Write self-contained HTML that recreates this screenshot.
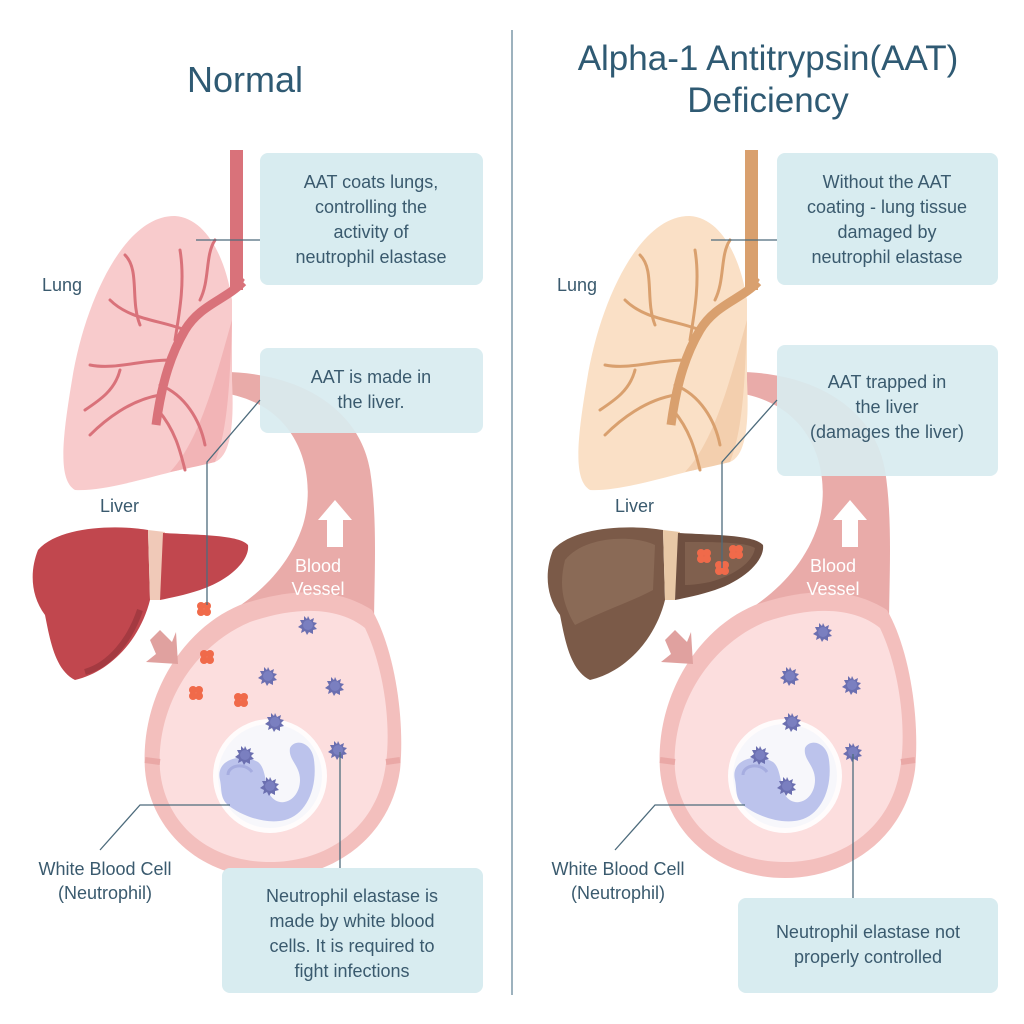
<!DOCTYPE html>
<html><head><meta charset="utf-8"><style>
html,body{margin:0;padding:0;background:#fff;}
svg{display:block;}
text{font-family:"Liberation Sans",sans-serif;}
</style></head><body>
<svg width="1024" height="1024" viewBox="0 0 1024 1024" xmlns="http://www.w3.org/2000/svg">
<defs>
<g id="star">
<polygon points="0,-9 2,-5 6,-7 5,-3 9,-2 6,1 9,4 5,5 5,9 1,7 -1,10 -3,6 -7,8 -6,4 -10,2 -6,-1 -8,-5 -4,-5 -4,-9 -1,-6" fill="#6b6fb0"/>
<circle r="5" fill="#7a7fc0"/>
</g>
<g id="clus">
<circle cx="-3" cy="-3" r="4" fill="#f06a4a"/><circle cx="3" cy="-3" r="4" fill="#f06a4a"/>
<circle cx="-3" cy="3" r="4" fill="#f06a4a"/><circle cx="3" cy="3" r="4" fill="#f06a4a"/>
</g>
<g id="vessel">
<!-- tube -->
<path d="M215,372 C300,370 360,410 370,470 C378,520 374,580 374,630 L225,615 C260,595 290,565 303,525 C318,475 300,400 215,392 Z" fill="#e9aba9"/>
<!-- bulb -->
<path d="M372,610 C395,650 405,720 400,770 C390,840 330,878 270,878 C200,878 150,830 145,770 C140,700 180,630 240,605 C300,585 340,590 372,610 Z" fill="#f3bfbd"/>
<path d="M365,628 C385,670 392,730 385,770 C375,830 325,862 270,862 C210,862 165,825 160,770 C156,705 195,645 250,622 C300,605 340,608 365,628 Z" fill="#fcdede"/>
<path d="M145,760 L160,762 M400,760 L386,762" stroke="#eaa8a6" stroke-width="6"/>
<!-- up arrow -->
<polygon points="335,500 352,520 343,520 343,547 327,547 327,520 318,520" fill="#fff"/>
<!-- pink arrow -->
<polygon points="150,640 160,630 172,642 176,632 178,664 146,662 156,654" fill="#e0a19f"/>
<!-- WBC -->
<circle cx="270" cy="776" r="57" fill="#ffffff" opacity="0.9"/>
<circle cx="270" cy="776" r="52" fill="#f7f7fb"/>
<path d="M220,780 C215,760 240,752 258,762 C266,768 265,785 270,795 C280,810 300,800 300,780 C300,765 288,760 290,748 C295,738 312,742 314,760 C318,790 305,815 285,820 C265,825 240,815 228,805 C220,798 222,790 220,780 Z" fill="#bcc3ec"/>
<path d="M228,775 C228,765 245,762 252,772" stroke="#a6ade0" stroke-width="3" fill="none"/>
<text x="318" y="572" font-size="18" fill="#fff" text-anchor="middle">Blood</text>
<text x="318" y="595" font-size="18" fill="#fff" text-anchor="middle">Vessel</text>
</g>
</defs>

<line x1="512" y1="30" x2="512" y2="995" stroke="#7d98a8" stroke-width="1.5"/>

<text x="245" y="92" font-size="36" fill="#2f5a73" text-anchor="middle">Normal</text>
<text x="768" y="70" font-size="35" fill="#2f5a73" text-anchor="middle">Alpha-1 Antitrypsin(AAT)</text>
<text x="768" y="112" font-size="35" fill="#2f5a73" text-anchor="middle">Deficiency</text>

<!-- LEFT -->
<use href="#vessel"/>
<path d="M232,300 C225,255 205,218 175,216 C125,215 85,300 72,380 C62,440 58,480 75,490 C110,492 170,470 215,462 C232,455 234,420 232,380 Z" fill="#f8cbcc"/>
<path d="M232,320 C230,380 228,430 215,462 C190,468 180,470 170,472 C200,440 215,380 232,320 Z" fill="#f2b4b6"/>
<rect x="230" y="150" width="13" height="140" fill="#d9727a"/>
<path d="M243,280 C230,300 200,300 185,330 C170,360 160,380 155,420 M185,330 C160,320 130,320 110,300 M170,360 C140,360 115,370 90,365 M160,395 C130,400 105,420 90,435 M158,410 C175,430 180,450 185,470 M175,340 C180,310 185,280 180,250 M200,300 C210,280 205,255 215,240 M140,325 C130,300 140,270 125,255 M120,370 C115,390 100,400 85,410 M160,385 C185,395 200,420 205,445" stroke="#d9727a" stroke-width="3" fill="none" stroke-linecap="round"/>
<path d="M243,282 C225,300 200,305 185,330 C172,352 162,380 156,425" stroke="#d9727a" stroke-width="9" fill="none"/>
<path d="M38,550 C60,525 120,525 148,530 L150,600 C140,640 110,672 75,680 C55,670 50,640 45,615 C30,595 30,570 38,550 Z" fill="#c1474e"/>
<path d="M148,530 L165,532 L160,600 L150,600 Z" fill="#f0c9b8"/>
<path d="M163,533 C200,535 240,535 248,545 C250,560 230,580 200,590 C185,595 170,598 160,600 Z" fill="#c1474e"/>
<path d="M140,610 C130,640 110,665 85,672" stroke="#a43a41" stroke-width="6" fill="none"/>
<use href="#clus" x="204" y="609"/>
<use href="#clus" x="207" y="657"/>
<use href="#clus" x="196" y="693"/>
<use href="#clus" x="241" y="700"/>
<use href="#star" x="308" y="625"/>
<use href="#star" x="268" y="676"/>
<use href="#star" x="335" y="686"/>
<use href="#star" x="275" y="722"/>
<use href="#star" x="338" y="750"/>
<use href="#star" x="245" y="755"/>
<use href="#star" x="270" y="786"/>

<rect x="260" y="153" width="223" height="132" rx="8" fill="#d8ecf0"/>
<g font-size="18" fill="#3a5a6e" text-anchor="middle">
<text x="371" y="188">AAT coats lungs,</text>
<text x="371" y="213">controlling the</text>
<text x="371" y="238">activity of</text>
<text x="371" y="263">neutrophil elastase</text>
</g>
<rect x="260" y="348" width="223" height="85" rx="8" fill="#d8ecf0" opacity="0.92"/>
<g font-size="18" fill="#3a5a6e" text-anchor="middle">
<text x="371" y="383">AAT is made in</text>
<text x="371" y="408">the liver.</text>
</g>
<rect x="222" y="868" width="261" height="125" rx="8" fill="#d8ecf0"/>
<g font-size="18" fill="#3a5a6e" text-anchor="middle">
<text x="352" y="902">Neutrophil elastase is</text>
<text x="352" y="927">made by white blood</text>
<text x="352" y="952">cells. It is required to</text>
<text x="352" y="977">fight infections</text>
</g>
<g stroke="#4d6b7c" stroke-width="1.3" fill="none">
<line x1="196" y1="240" x2="260" y2="240"/>
<polyline points="260,400 207,462 207,605"/>
<polyline points="230,805 140,805 100,850"/>
<line x1="340" y1="752" x2="340" y2="868"/>
</g>
<g font-size="18" fill="#3a5a6e">
<text x="42" y="291">Lung</text>
<text x="100" y="512">Liver</text>
<text x="105" y="875" text-anchor="middle">White Blood Cell</text>
<text x="105" y="899" text-anchor="middle">(Neutrophil)</text>
</g>

<!-- RIGHT -->
<g transform="translate(515,0)">
<use href="#vessel"/>
<path d="M232,300 C225,255 205,218 175,216 C125,215 85,300 72,380 C62,440 58,480 75,490 C110,492 170,470 215,462 C232,455 234,420 232,380 Z" fill="#fae0c6"/>
<path d="M232,320 C230,380 228,430 215,462 C190,468 180,470 170,472 C200,440 215,380 232,320 Z" fill="#f3cfae"/>
<rect x="230" y="150" width="13" height="140" fill="#d9a06e"/>
<path d="M243,280 C230,300 200,300 185,330 C170,360 160,380 155,420 M185,330 C160,320 130,320 110,300 M170,360 C140,360 115,370 90,365 M160,395 C130,400 105,420 90,435 M158,410 C175,430 180,450 185,470 M175,340 C180,310 185,280 180,250 M200,300 C210,280 205,255 215,240 M140,325 C130,300 140,270 125,255 M120,370 C115,390 100,400 85,410 M160,385 C185,395 200,420 205,445" stroke="#d9a06e" stroke-width="3" fill="none" stroke-linecap="round"/>
<path d="M243,282 C225,300 200,305 185,330 C172,352 162,380 156,425" stroke="#d9a06e" stroke-width="9" fill="none"/>
<path d="M38,550 C60,525 120,525 148,530 L150,600 C140,640 110,672 75,680 C55,670 50,640 45,615 C30,595 30,570 38,550 Z" fill="#7b5a48"/>
<path d="M50,560 C70,535 120,535 140,545 L138,590 C120,600 90,610 60,625 C45,600 45,580 50,560 Z" fill="#8a6a56"/>
<path d="M148,530 L165,532 L160,600 L150,600 Z" fill="#e8c8a6"/>
<path d="M163,533 C200,535 240,535 248,545 C250,560 230,580 200,590 C185,595 170,598 160,600 Z" fill="#6e4f40"/>
<path d="M170,542 C200,542 230,542 240,548 C238,562 220,575 195,582 C180,585 172,585 170,585 Z" fill="#80604e"/>
<use href="#clus" x="189" y="556"/>
<use href="#clus" x="221" y="552"/>
<use href="#clus" x="207" y="568"/>
<use href="#star" x="308" y="632"/>
<use href="#star" x="275" y="676"/>
<use href="#star" x="337" y="685"/>
<use href="#star" x="277" y="722"/>
<use href="#star" x="338" y="752"/>
<use href="#star" x="245" y="755"/>
<use href="#star" x="272" y="786"/>
</g>

<rect x="777" y="153" width="221" height="132" rx="8" fill="#d8ecf0"/>
<g font-size="18" fill="#3a5a6e" text-anchor="middle">
<text x="887" y="188">Without the AAT</text>
<text x="887" y="213">coating - lung tissue</text>
<text x="887" y="238">damaged by</text>
<text x="887" y="263">neutrophil elastase</text>
</g>
<rect x="777" y="345" width="221" height="131" rx="8" fill="#d8ecf0" opacity="0.92"/>
<g font-size="18" fill="#3a5a6e" text-anchor="middle">
<text x="887" y="388">AAT trapped in</text>
<text x="887" y="413">the liver</text>
<text x="887" y="438">(damages the liver)</text>
</g>
<rect x="738" y="898" width="260" height="95" rx="8" fill="#d8ecf0"/>
<g font-size="18" fill="#3a5a6e" text-anchor="middle">
<text x="868" y="938">Neutrophil elastase not</text>
<text x="868" y="963">properly controlled</text>
</g>
<g stroke="#4d6b7c" stroke-width="1.3" fill="none">
<line x1="711" y1="240" x2="777" y2="240"/>
<polyline points="777,400 722,462 722,568"/>
<polyline points="745,805 655,805 615,850"/>
<line x1="853" y1="754" x2="853" y2="898"/>
</g>
<g font-size="18" fill="#3a5a6e">
<text x="557" y="291">Lung</text>
<text x="615" y="512">Liver</text>
<text x="618" y="875" text-anchor="middle">White Blood Cell</text>
<text x="618" y="899" text-anchor="middle">(Neutrophil)</text>
</g>
</svg>
</body></html>
